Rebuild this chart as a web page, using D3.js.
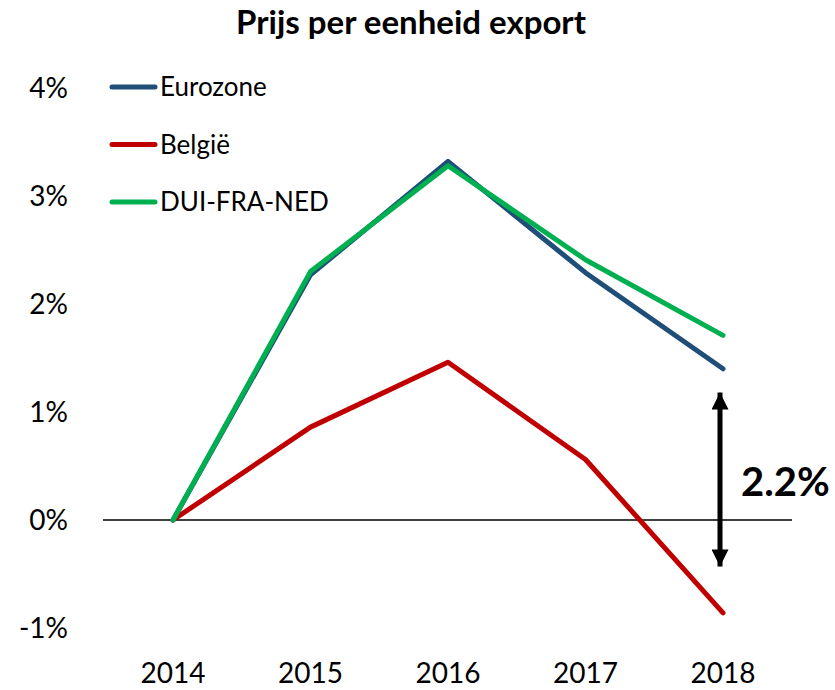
<!DOCTYPE html>
<html>
<head>
<meta charset="utf-8">
<script src="https://cdn.jsdelivr.net/npm/d3@7"></script>
<style>
  body { margin: 0; background: #fff; }
  text { font-family: Lato, "Open Sans", sans-serif; }
</style>
</head>
<body>
<div class="chart"></div>
<script>
// waarden (in %)
const years = ["2014", "2015", "2016", "2017", "2018"];
const eurozone = [0, 2.27, 3.32, 2.29, 1.40];
const belgie = [0, 0.86, 1.46, 0.56, -0.86];
const duiFraNed = [0, 2.30, 3.28, 2.41, 1.71];
const yTicks = [-1, 0, 1, 2, 3, 4];
const seriesNames = ["Eurozone", "België", "DUI-FRA-NED"];
const seriesColors = ["#1F4E79", "#C00000", "#00B050"];
const gapLabel = "2.2%";

const width = 835;
const height = 690;

const svg = d3.select("div.chart")
    .append("svg")
    .attr("width", width)
    .attr("height", height);

const x = d3.scalePoint()
    .domain(years)
    .range([173, 723]);

const y = d3.scaleLinear()
    .domain([-1, 4])
    .range([628, 88]);

// titel
svg.append("text")
    .attr("x", 411)
    .attr("y", 34)
    .attr("text-anchor", "middle")
    .attr("font-size", 33)
    .attr("font-weight", "bold")
    .text("Prijs per eenheid export");

// y-as labels
svg.append("g")
    .selectAll("text")
    .data(yTicks)
    .enter()
    .append("text")
    .attr("x", 68)
    .attr("y", function(d) { return y(d); })
    .attr("dy", "0.35em")
    .attr("text-anchor", "end")
    .attr("font-size", 28)
    .text(function(d) { return d + "%"; });

// x-as labels
svg.append("g")
    .selectAll("text")
    .data(years)
    .enter()
    .append("text")
    .attr("x", function(d) { return x(d); })
    .attr("y", 683)
    .attr("text-anchor", "middle")
    .attr("font-size", 28)
    .text(function(d) { return d; });

// nullijn
svg.append("line")
    .attr("x1", 103)
    .attr("x2", 792)
    .attr("y1", y(0))
    .attr("y2", y(0))
    .attr("stroke", "#000")
    .attr("stroke-width", 1.3);

const line = d3.line()
    .x(function(d, i) { return x(years[i]); })
    .y(function(d) { return y(d); });

// volgorde: rood, blauw, groen bovenop
const drawOrder = [
    { values: belgie, color: seriesColors[1] },
    { values: eurozone, color: seriesColors[0] },
    { values: duiFraNed, color: seriesColors[2] }
];
svg.append("g")
    .selectAll("path")
    .data(drawOrder)
    .enter()
    .append("path")
    .attr("d", function(d) { return line(d.values); })
    .attr("fill", "none")
    .attr("stroke", function(d) { return d.color; })
    .attr("stroke-width", 5)
    .attr("stroke-linecap", "round")
    .attr("stroke-linejoin", "round");

// legende
const legend = svg.append("g")
    .selectAll("g")
    .data(seriesNames)
    .enter()
    .append("g")
    .attr("transform", function(d, i) { return "translate(0," + (87 + i * 57.5) + ")"; });

legend.append("line")
    .attr("x1", 112)
    .attr("x2", 155)
    .attr("stroke", function(d, i) { return seriesColors[i]; })
    .attr("stroke-width", 5)
    .attr("stroke-linecap", "round");

legend.append("text")
    .attr("x", 160)
    .attr("dy", "0.35em")
    .attr("font-size", 26)
    .text(function(d) { return d; });

// pijl met verschil
const defs = svg.append("defs");
defs.append("marker")
    .attr("id", "head")
    .attr("viewBox", "0 0 10 10")
    .attr("refX", 10)
    .attr("refY", 5)
    .attr("markerWidth", 3.4)
    .attr("markerHeight", 3.4)
    .attr("markerUnits", "strokeWidth")
    .attr("orient", "auto-start-reverse")
    .append("path")
    .attr("d", "M0,0 L10,5 L0,10 z")
    .attr("fill", "#000");

const arrowX = 720;
svg.append("line")
    .attr("x1", arrowX)
    .attr("x2", arrowX)
    .attr("y1", y(1.18))
    .attr("y2", y(-0.43))
    .attr("stroke", "#000")
    .attr("stroke-width", 5)
    .attr("marker-start", "url(#head)")
    .attr("marker-end", "url(#head)");

svg.append("text")
    .attr("x", 741)
    .attr("y", 496)
    .attr("font-family", "'Liberation Sans', Arial, sans-serif")
    .attr("font-size", 40)
    .attr("font-weight", "bold")
    .text(gapLabel);
</script>
</body>
</html>
